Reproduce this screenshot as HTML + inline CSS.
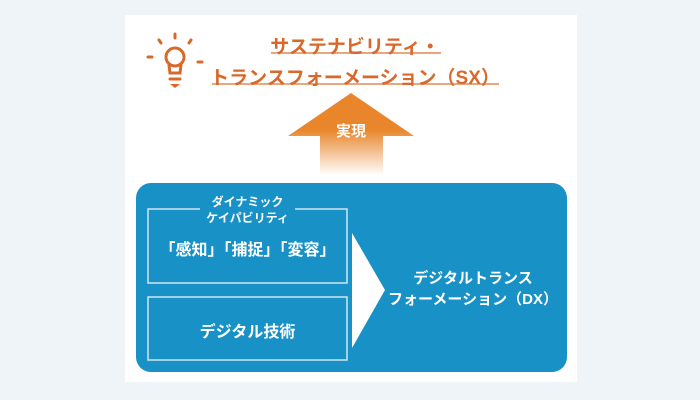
<!DOCTYPE html>
<html><head><meta charset="utf-8"><style>
body{margin:0;width:700px;height:400px;background:#eef4f8;position:relative;overflow:hidden;font-family:"Liberation Sans","Noto Sans CJK JP",sans-serif;font-weight:bold}
.a{position:absolute}
.t{position:absolute;white-space:nowrap;text-align:center}
</style></head><body>
<div class="a" style="left:125px;top:15px;width:452px;height:367px;background:#fff"></div>
<svg class="a" style="left:0;top:0" width="700" height="400">
<defs><linearGradient id="g" x1="0" y1="0" x2="0" y2="1"><stop offset="0.45" stop-color="#e9862b"/><stop offset="1" stop-color="#e9862b" stop-opacity="0"/></linearGradient></defs>
<g stroke="#d9692a" stroke-width="3" fill="none" stroke-linecap="round">
<circle cx="175" cy="57" r="9"/>
<path d="M169 65 L170 73 L180 73 L181 65"/>
<line x1="175" y1="34" x2="175" y2="38"/>
<line x1="159" y1="40" x2="161" y2="43"/>
<line x1="191" y1="40" x2="189" y2="43"/>
<line x1="148" y1="57" x2="152" y2="57"/>
<line x1="198" y1="62" x2="202" y2="62"/>
<line x1="170" y1="79" x2="180" y2="79"/>
</g>
<path d="M170 84 L180 84 L175 88 Z" fill="#d9692a"/>
<line x1="271" y1="53" x2="441" y2="53" stroke="#e08a55" stroke-width="1.5"/>
<line x1="212" y1="84" x2="499" y2="84" stroke="#e08a55" stroke-width="1.5"/>
<path d="M351 93 L414 136 L383 136 L383 175 L320 175 L320 136 L288 136 Z" fill="url(#g)"/>
<rect x="136" y="183" width="431" height="189" rx="15" fill="#1791c6"/>
<rect x="148" y="209" width="199" height="74" fill="none" stroke="#cfe6f2" stroke-width="1.5"/>
<rect x="200" y="200" width="95" height="12" fill="#1791c6"/>
<rect x="148" y="297" width="199" height="63" fill="none" stroke="#cfe6f2" stroke-width="1.5"/>
<path d="M352 233 L385 290 L352 348 Z" fill="#fff"/>
</svg>
<div class="t" style="left:200px;width:310px;top:32px;font-size:19px;color:#d9692a;line-height:31px">サステナビリティ・<br>トランスフォーメーション（SX）</div>
<div class="t" style="left:311px;width:80px;top:120px;font-size:15px;color:#fff">実現</div>
<div class="t" style="left:148px;width:199px;top:194px;font-size:12px;color:#fff;line-height:16px">ダイナミック<br>ケイパビリティ</div>
<div class="t" style="left:148px;width:199px;top:236px;font-size:16px;color:#fff">「感知」「捕捉」「変容」</div>
<div class="t" style="left:148px;width:199px;top:318px;font-size:16px;color:#fff">デジタル技術</div>
<div class="t" style="left:388px;width:170px;top:268px;font-size:15px;color:#fff;line-height:21px">デジタルトランス<br>フォーメーション（DX）</div>
</body></html>
